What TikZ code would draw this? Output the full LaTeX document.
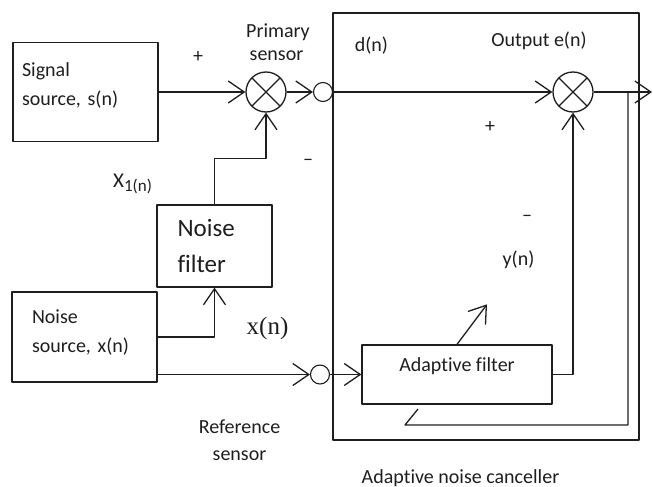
\documentclass[tikz,border=0pt]{standalone}
\usepackage{fontspec}
\setmainfont{Carlito}[Ligatures={NoCommon}]
\newfontfamily\serifx{Liberation Serif}
\usetikzlibrary{arrows.meta}
\definecolor{ink}{HTML}{1E1E1E}

\begin{document}
\begin{tikzpicture}[
  x=1pt, y=-1pt,
  line join=round,
  wire/.style={draw=ink, line width=1.3pt},
  flow/.style={wire, -{Straight Barb[length=16pt,width=22pt]}},
  box/.style={draw=ink, line width=1.3pt, rectangle, inner sep=0pt},
  % summing junction: circle with a diagonal cross
  mixer/.style={draw=ink, line width=1.3pt, circle, minimum size=40pt, inner sep=0pt,
    path picture={\draw[ink, line width=1.3pt]
      (path picture bounding box.south west) -- (path picture bounding box.north east)
      (path picture bounding box.north west) -- (path picture bounding box.south east);}},
  pickup/.style={draw=ink, line width=1.1pt, circle, minimum size=19pt, inner sep=0pt},
  lbl/.style={font=\fontsize{20}{29}\selectfont, text=ink, inner sep=0pt},
  biglbl/.style={font=\fontsize{25}{36}\selectfont, text=ink, inner sep=0pt},
]
\useasboundingbox (0,0) rectangle (653,487);

% --- Adaptive noise canceller frame
\node[box, line width=1.9pt, minimum width=306pt, minimum height=427pt] (anc) at (486,226.5) {};
\node[lbl, anchor=base] (anctxt) at (460.5,483) {Adaptive noise canceller};

% --- Sources and filters
\node[box, lbl, minimum width=145pt, minimum height=99pt, text width=127pt, align=left]
  (sig) at (85.5,92) {Signal\\source, s(n)\par\vspace*{14pt}};
\node[box, lbl, minimum width=145pt, minimum height=90pt, text width=105pt, align=left]
  (nsrc) at (84.5,337) {Noise\\source, x(n)\par\vspace*{9pt}};
\node[box, biglbl, minimum width=115pt, minimum height=82pt, text width=74pt, align=left]
  (nflt) at (214.5,246) {Noise\\filter};
\node[box, lbl, minimum width=190pt, minimum height=59pt, text depth=19pt]
  (adf) at (457,374.5) {Adaptive filter};

% --- Junctions and sensors
\node[mixer] (sum1) at (266,92) {};
\node[mixer] (sum2) at (573,92) {};
\node[pickup] (s1) at (323,92) {};
\node[pickup] (s2) at (320,374.5) {};
\coordinate (out) at (652,92);
\coordinate (tap) at (628,92);
\coordinate (fbend) at (405,425);

% --- Signal paths
\draw[flow] (sig) -- (sum1);
\draw[flow] (sum1) -- (s1);
\draw[flow] (s1) -- (sum2);
\draw[flow] (sum2) -- (out);
\draw[flow] (nsrc.east) -| (nflt.south);
\draw[flow] (nflt.north) -- ++(0,-46) -| (sum1.south);
\draw[flow] (nsrc.east |- s2) -- (s2);
\draw[flow] (s2) -- (s2 -| adf.west);
\draw[flow] (adf.east) -| (sum2.south);
\draw[flow] (adf.north) -- ++(30,-40);
% error fed back to the adaptive filter
\draw[wire] (tap) |- (fbend) -- ++(13,-16);

% --- Labels
\node[lbl, anchor=base] (prim1) at (278,38) {Primary};
\node[lbl, anchor=base] (prim2) at (276.5,60) {sensor};
\node[lbl] (plus1) at (198,57) {+};
\node[lbl] (minus1) at (308,162) {\textendash};
\node[lbl, anchor=base west, font=\fontsize{21}{24}\selectfont] (x1) at (113,187)
  {X\raisebox{-4pt}{\fontsize{17}{20}\selectfont 1(n)}};
\node[lbl, anchor=base, font=\serifx\fontsize{25}{30}\selectfont] (xn) at (267.5,334) {x(n)};
\node[lbl, anchor=base] (ref1) at (239.5,433) {Reference};
\node[lbl, anchor=base] (ref2) at (239.5,460) {sensor};
\node[lbl, anchor=base] (dn) at (371.5,52) {d(n)};
\node[lbl, anchor=base] (en) at (539,47) {Output e(n)};
\node[lbl] (plus2) at (490,127) {+};
\node[lbl] (minus2) at (527,218) {\textendash};
\node[lbl, anchor=base] (yn) at (518.5,265) {y(n)};
\end{tikzpicture}
\end{document}
